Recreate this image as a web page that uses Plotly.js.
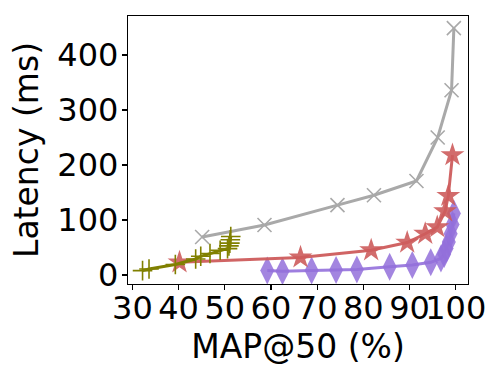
<!DOCTYPE html>
<html><head><meta charset="utf-8">
<script src="https://cdn.plot.ly/plotly-3.0.1.min.js"></script>
<style>html,body{margin:0;padding:0;background:#fff;}#c{width:500px;height:380px;}</style>
</head><body><div id="c"></div>
<script>
const grayX = [45.1, 58.6, 74.4, 82.3, 91.5, 96.1, 99.1, 99.6];
const grayY = [69, 91, 127, 145, 171, 250, 336, 449];
const redX = [40.2, 66.4, 81.7, 89.5, 93.4, 96.0, 97.7, 98.4, 99.3];
const redY = [23, 32, 45, 59, 75, 87, 116, 144, 218];
const purpleX = [59.2, 62.5, 68.8, 74.1, 78.6, 85.7, 90.6, 94.6, 96.8, 97.5, 98.0, 98.5, 98.9, 99.3, 99.6];
const purpleY = [8, 7, 8, 9, 10, 15, 18, 23, 30, 38, 48, 60, 75, 92, 112];
const oliveX = [32.2, 33.6, 39.3, 43.7, 44.8, 46.8, 49.0, 50.6, 50.9, 51.1, 51.2, 51.3];
const oliveY = [8, 11, 19, 29, 34, 39, 45, 48, 53, 58, 64, 70];
const xTicks = [30, 40, 50, 60, 70, 80, 90, 100];
const yTicks = [0, 100, 200, 300, 400];

const traces = [
  {x: grayX, y: grayY, mode: 'lines+markers', line: {color: 'rgba(169,169,169,1)', width: 3},
   marker: {symbol: 'x-thin', size: 14, line: {color: 'rgba(169,169,169,1)', width: 1.6}}},
  {x: purpleX, y: purpleY, mode: 'lines+markers', line: {color: 'rgba(147,112,219,0.9)', width: 3},
   marker: {symbol: 'diamond-tall', size: 20, color: 'rgba(147,112,219,0.85)', line: {width: 0}}},
  {x: redX, y: redY, mode: 'lines+markers', line: {color: 'rgba(205,92,92,0.95)', width: 3},
   marker: {symbol: 'star', size: 18, color: 'rgba(205,92,92,0.9)', line: {width: 0}}},
  {x: oliveX, y: oliveY, mode: 'lines+markers', line: {color: 'rgba(128,128,0,1)', width: 3},
   marker: {symbol: 'cross-thin', size: 14, line: {color: 'rgba(128,128,0,1)', width: 1.6}}}
];
const tf = {family: 'DejaVu Sans', size: 32, color: '#000'};
const layout = {
  width: 500, height: 380,
  margin: {l: 128, r: 32, t: 16, b: 96},
  paper_bgcolor: '#fff', plot_bgcolor: '#fff',
  showlegend: false,
  xaxis: {range: [29.05, 102.66], tickvals: xTicks, ticktext: xTicks.map(String), tickangle: 0,
    ticks: 'outside', ticklen: 5, tickwidth: 1.2, tickcolor: '#000', ticklabelstandoff: -10,
    showgrid: false, zeroline: false, showline: true, linecolor: '#000', linewidth: 1.2, mirror: true,
    tickfont: tf, title: {text: 'MAP@50 (%)', font: {family: 'DejaVu Sans', size: 33, color: '#000'}, standoff: 8}},
  yaxis: {range: [-16.4, 471], tickvals: yTicks, ticktext: yTicks.map(String),
    ticks: 'outside', ticklen: 5, tickwidth: 1.2, tickcolor: '#000', ticklabelstandoff: -3,
    showgrid: false, zeroline: false, showline: true, linecolor: '#000', linewidth: 1.2, mirror: true,
    tickfont: tf, title: {text: 'Latency (ms)', font: {family: 'DejaVu Sans', size: 33, color: '#000'}, standoff: 8}}
};
Plotly.newPlot('c', traces, layout, {staticPlot: true, displayModeBar: false});
</script></body></html>
